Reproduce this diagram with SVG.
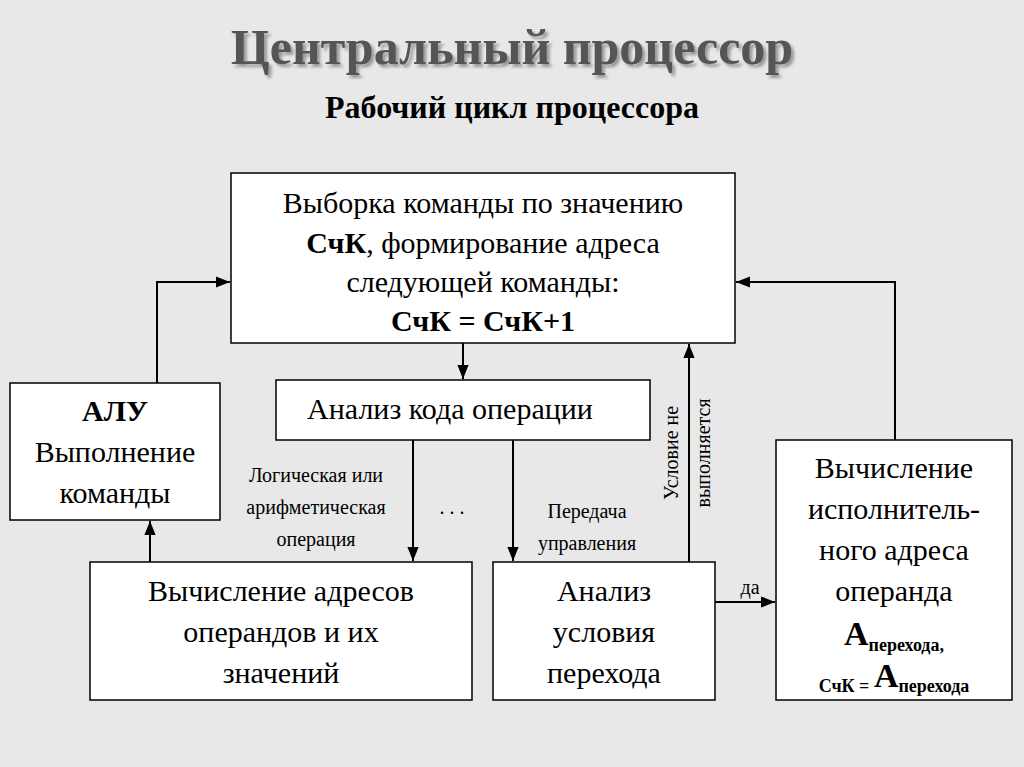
<svg xmlns="http://www.w3.org/2000/svg" width="1024" height="767" viewBox="0 0 1024 767">
<defs>
<marker id="ar" viewBox="0 0 10 10" refX="10" refY="5" markerWidth="7" markerHeight="7" orient="auto"><path d="M0,1 L10,5 L0,9 z" fill="#000"/></marker>
<filter id="sh"><feDropShadow dx="3" dy="3" stdDeviation="1.5" flood-color="#999"/></filter>
</defs>
<style>
text{font-family:"Liberation Serif","Times New Roman","DejaVu Serif",serif;text-anchor:middle;fill:#000}
.b{fill:#fff;stroke:#000;stroke-width:1.5}
.t{font-size:30px}
.s{font-size:20px}
.c{fill:none;stroke:#000;stroke-width:2;marker-end:url(#ar)}
</style>
<rect width="1024" height="767" fill="#e8e8e8"/>
<text x="512" y="64" font-size="50" font-weight="bold" filter="url(#sh)" style="fill:#555">Центральный процессор</text>
<text x="512" y="118" font-size="32" font-weight="bold">Рабочий цикл процессора</text>
<g id="fetch"><rect class="b" x="231" y="173" width="504" height="170"/>
<text class="t" x="483" y="213">Выборка команды по значению</text>
<text class="t" x="483" y="253"><tspan font-weight="bold">СчК</tspan>, формирование адреса</text>
<text class="t" x="483" y="292">следующей команды:</text>
<text class="t" x="483" y="331" font-weight="bold">СчК = СчК+1</text></g>
<g id="decode"><rect class="b" x="276" y="380" width="374" height="60"/>
<text class="t" x="450" y="419">Анализ кода операции</text></g>
<g id="alu"><rect class="b" x="10" y="383" width="210" height="137"/>
<text class="t" x="115" y="421" font-weight="bold">АЛУ</text>
<text class="t" x="115" y="462">Выполнение</text>
<text class="t" x="115" y="503">команды</text></g>
<g id="operands"><rect class="b" x="90" y="562" width="382" height="138"/>
<text class="t" x="281" y="601">Вычисление адресов</text>
<text class="t" x="281" y="642">операндов и их</text>
<text class="t" x="281" y="683">значений</text></g>
<g id="cond"><rect class="b" x="493" y="562" width="222" height="138"/>
<text class="t" x="604" y="601">Анализ</text>
<text class="t" x="604" y="642">условия</text>
<text class="t" x="604" y="683">перехода</text></g>
<g id="addr"><rect class="b" x="776" y="440" width="236" height="260"/>
<text class="t" x="894" y="478">Вычисление</text>
<text class="t" x="894" y="519">исполнитель-</text>
<text class="t" x="894" y="560">ного адреса</text>
<text class="t" x="894" y="601">операнда</text>
<text x="894" y="645" font-weight="bold"><tspan font-size="34">А</tspan><tspan font-size="18" dy="6">перехода,</tspan></text>
<text x="894" y="692" font-weight="bold"><tspan font-size="18">СчК  =  </tspan><tspan font-size="34" dy="-5">А</tspan><tspan font-size="18" dy="5">перехода</tspan></text></g>
<g id="connectors">
<path class="c" d="M463,343 V379"/>
<path class="c" d="M157,383 V282 H230"/>
<path class="c" d="M895,440 V282 H736"/>
<path class="c" d="M413,440 V561"/>
<path class="c" d="M513,440 V561"/>
<path class="c" d="M689,562 V344"/>
<path class="c" d="M715,602 H775"/>
<path class="c" d="M150,562 V521"/>
</g>
<g id="labels">
<text class="s" x="316" y="482">Логическая или</text>
<text class="s" x="316" y="514">арифметическая</text>
<text class="s" x="316" y="546">операция</text>
<text class="s" x="452" y="514">. . .</text>
<text class="s" x="587" y="518">Передача</text>
<text class="s" x="587" y="550">управления</text>
<text class="s" x="750" y="594">да</text>
<text class="s" transform="translate(678,453) rotate(-90)">Условие не</text>
<text class="s" transform="translate(710,453) rotate(-90)">выполняется</text>
</g>
</svg>
